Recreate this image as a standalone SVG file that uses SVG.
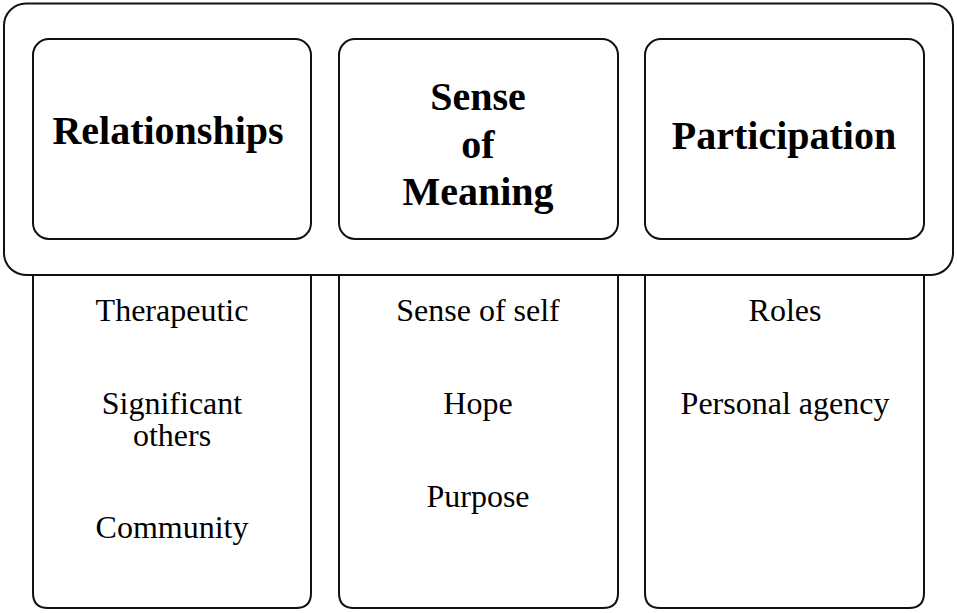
<svg xmlns="http://www.w3.org/2000/svg" width="957" height="613" viewBox="0 0 957 613">
<style>
.box{fill:#fff;stroke:#111;stroke-width:2}
.hd{font-family:"Liberation Serif","Times New Roman",serif;font-weight:bold;font-size:40px;fill:#000;text-anchor:middle}
.it{font-family:"Liberation Serif","Times New Roman",serif;font-size:32px;fill:#000;text-anchor:middle}
</style>
<rect width="957" height="613" fill="#fff"/>
<g id="col-relationships-list">
<path class="box" d="M33 250 V593 Q33 608 48 608 H296 Q311 608 311 593 V250"/>
<text class="it" x="172" y="321">Therapeutic</text>
<text class="it" x="172" y="414">Significant</text>
<text class="it" x="172" y="446">others</text>
<text class="it" x="172" y="538">Community</text>
</g>
<g id="col-meaning-list">
<path class="box" d="M339 250 V593 Q339 608 354 608 H603 Q618 608 618 593 V250"/>
<text class="it" x="478" y="321">Sense of self</text>
<text class="it" x="478" y="414">Hope</text>
<text class="it" x="478" y="507">Purpose</text>
</g>
<g id="col-participation-list">
<path class="box" d="M645 250 V593 Q645 608 660 608 H909 Q924 608 924 593 V250"/>
<text class="it" x="785" y="321">Roles</text>
<text class="it" x="785" y="414">Personal agency</text>
</g>
<g id="outer">
<rect class="box" x="4" y="3.5" width="949" height="271.5" rx="22" ry="22"/>
</g>
<g id="relationships">
<rect class="box" x="33" y="39" width="278" height="200" rx="16" ry="16"/>
<text class="hd" x="168" y="144">Relationships</text>
</g>
<g id="sense-of-meaning">
<rect class="box" x="339" y="39" width="279" height="200" rx="16" ry="16"/>
<text class="hd" x="478" y="110">Sense</text>
<text class="hd" x="478" y="158">of</text>
<text class="hd" x="478" y="205">Meaning</text>
</g>
<g id="participation">
<rect class="box" x="645" y="39" width="279" height="200" rx="16" ry="16"/>
<text class="hd" x="784" y="149">Participation</text>
</g>
<g id="connectors"></g>
</svg>
